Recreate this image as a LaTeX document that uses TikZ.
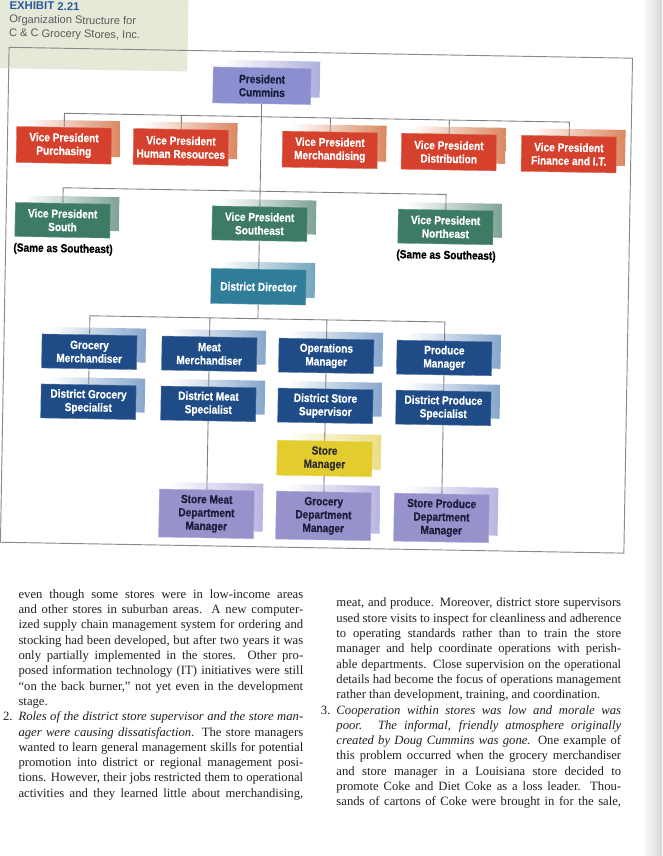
\documentclass[tikz,border=0pt]{standalone}
\usepackage{fontspec}
\setmainfont{Liberation Serif}
\newfontfamily\boxff[FakeStretch=0.86, BoldFeatures={FakeBold=0.6}]{Liberation Sans}
\newfontfamily\headff{Liberation Sans}
\usetikzlibrary{shadows}
\definecolor{presC}{HTML}{8B8FCF}
\definecolor{presS}{HTML}{AEB0DE}
\definecolor{presT}{HTML}{1C1E3E}
\definecolor{vpR}{HTML}{D5412C}
\definecolor{vpRS}{HTML}{DB8760}
\definecolor{vpG}{HTML}{3E7B64}
\definecolor{vpGS}{HTML}{7EA394}
\definecolor{ddC}{HTML}{2F7D98}
\definecolor{ddS}{HTML}{74A5BE}
\definecolor{navC}{HTML}{1F4C86}
\definecolor{navS}{HTML}{86A6CC}
\definecolor{yelC}{HTML}{E2CC2E}
\definecolor{yelS}{HTML}{EADF84}
\definecolor{yelT}{HTML}{2E2E2E}
\definecolor{lavC}{HTML}{9692CC}
\definecolor{lavS}{HTML}{B8B6E0}
\definecolor{lavT}{HTML}{1E1E3C}
\definecolor{lineC}{HTML}{7F7F7F}
\definecolor{frameC}{HTML}{8A8A8A}
\definecolor{tintC}{HTML}{E5E9D8}
\definecolor{exhC}{HTML}{2C5C9C}
\definecolor{subC}{HTML}{5A5A5A}
\definecolor{bodyC}{HTML}{231F20}
\newcommand\orgfont{\boxff\bfseries\fontsize{8.8}{10}\selectfont}
\newlength\colw
\setlength\colw{213.5pt}
\newcommand\jline[1]{\strut\makebox[\colw][s]{#1}}
\newcommand\lline[1]{\strut #1}
\tikzset{
  box/.style={inner sep=0pt, align=center, font=\orgfont, line width=0.3pt, minimum width=71.25pt},
  orgbox/.style 2 args={box, fill=#1, draw=#1!75!white,
     general shadow={shadow xshift=6.75pt, shadow yshift=5.25pt, left color=white, right color=#2}},
  pbox/.style={orgbox={presC}{presS}, text=presT, minimum width=73.5pt, minimum height=27pt},
  rbox/.style={orgbox={vpR}{vpRS}, text=white, minimum height=27pt},
  gbox/.style={orgbox={vpG}{vpGS}, text=white, minimum height=25.5pt},
  tbox/.style={orgbox={ddC}{ddS}, text=white, minimum height=26.25pt},
  nbox/.style={orgbox={navC}{navS}, text=white, minimum height=25.5pt},
  ybox/.style={orgbox={yelC}{yelS}, text=yelT, minimum height=26.25pt},
  lbox/.style={orgbox={lavC}{lavS}, text=lavT, minimum height=36pt},
  sametext/.style={inner sep=0pt, font=\orgfont, text=black},
  conn/.style={draw=lineC, line width=0.65pt},
  bodytext/.style={anchor=north west, inner sep=0pt, align=left, text=bodyC,
     font=\fontsize{9.5}{11.475}\selectfont},
}
\begin{document}
\begin{tikzpicture}[x=0.75pt, y=-0.75pt]
\useasboundingbox (0,0) rectangle (662,856);
\fill[white] (0,0) rectangle (662,856);
\shade[left color=white, right color=black!16] (642,0) rectangle (662,856);
\begin{scope}[rotate around={-1:(331,428)}, transform shape]
% header
\fill[tintC] (-20,-20) rectangle (181,74);
\node[anchor=base west, inner sep=0pt, font=\headff\bfseries\fontsize{8.5}{10}\selectfont, text=exhC] (exh) at (2,15) {EXHIBIT 2.21};
\node[anchor=base west, inner sep=0pt, font=\headff\fontsize{8.3}{10}\selectfont, text=subC] (sub1) at (2,28.5) {Organization Structure for};
\node[anchor=base west, inner sep=0pt, font=\headff\fontsize{8.3}{10}\selectfont, text=subC] (sub2) at (2,42.2) {C \& C Grocery Stores, Inc.};
% frame
\draw[frameC, line width=0.7pt] (2.5,53) rectangle (626,548);
% nodes
\node[pbox] (pres) at (256,87) {President\\Cummins};
\node[rbox] (vppur) at (59,150) {Vice President\\Purchasing};
\node[rbox] (vphr) at (176,150) {Vice President\\Human Resources};
\node[rbox] (vpmer) at (325,150) {Vice President\\Merchandising};
\node[rbox] (vpdis) at (444,150) {Vice President\\Distribution};
\node[rbox] (vpfin) at (564,150) {Vice President\\Finance and I.T.};
\node[gbox] (vps) at (59,225) {Vice President\\South};
\node[gbox] (vpse) at (256,225) {Vice President\\Southeast};
\node[gbox] (vpne) at (442,225) {Vice President\\Northeast};
\node[sametext] (same1) at (60,254) {(Same as Southeast)};
\node[sametext] (same2) at (443,254) {(Same as Southeast)};
\node[tbox] (dd) at (256,288) {District Director};
\node[nbox] (gm) at (88,356) {Grocery\\Merchandiser};
\node[nbox] (mm) at (208,356) {Meat\\Merchandiser};
\node[nbox] (om) at (325,356) {Operations\\Manager};
\node[nbox] (pm) at (443,356) {Produce\\Manager};
\node[nbox] (dgs) at (88,406) {District Grocery\\Specialist};
\node[nbox] (dms) at (208,406) {District Meat\\Specialist};
\node[nbox] (dss) at (325,406) {District Store\\Supervisor};
\node[nbox] (dps) at (443,406) {District Produce\\Specialist};
\node[ybox] (sm) at (325,458.6) {Store\\Manager};
\node[lbox] (smdm) at (208,516) {Store Meat\\Department\\Manager};
\node[lbox] (gdm) at (325,516) {Grocery\\Department\\Manager};
\node[lbox] (spdm) at (443,516) {Store Produce\\Department\\Manager};
% bus coordinates
\coordinate (rb1) at (59,118);
\coordinate (rb2) at (176,118);
\coordinate (rb3) at (325,118);
\coordinate (rb4) at (444,118);
\coordinate (rb5) at (564,118);
\coordinate (gb1) at (59,192.5);
\coordinate (gb3) at (442,192.5);
\coordinate (bb1) at (88,320);
\coordinate (bb2) at (208,320);
\coordinate (bbc) at (256,320);
\coordinate (bb3) at (325,320);
\coordinate (bb4) at (443,320);
% connectors
\draw[conn] (pres.south) -- (vpse.north);
\draw[conn] (vppur.north) -- (rb1) -- (rb5) -- (vpfin.north);
\draw[conn] (rb2) -- (vphr.north);
\draw[conn] (rb3) -- (vpmer.north);
\draw[conn] (rb4) -- (vpdis.north);
\draw[conn] (vps.north) -- (gb1) -- (gb3) -- (vpne.north);
\draw[conn] (vpse.south) -- (dd.north);
\draw[conn] (dd.south) -- (bbc);
\draw[conn] (gm.north) -- (bb1) -- (bb4) -- (pm.north);
\draw[conn] (bb2) -- (mm.north);
\draw[conn] (bb3) -- (om.north);
\draw[conn] (gm.south) -- (dgs.north);
\draw[conn] (mm.south) -- (dms.north);
\draw[conn] (dms.south) -- (smdm.north);
\draw[conn] (om.south) -- (dss.north);
\draw[conn] (dss.south) -- (sm.north);
\draw[conn] (sm.south) -- (gdm.north);
\draw[conn] (pm.south) -- (dps.north);
\draw[conn] (dps.south) -- (spdm.north);
\end{scope}
% body text
\node[bodytext] (colL) at (18.3,587.4) {%
\jline{even though some stores were in low-income areas}\\
\jline{and other stores in suburban areas. A new computer-}\\
\jline{ized supply chain management system for ordering and}\\
\jline{stocking had been developed, but after two years it was}\\
\jline{only partially implemented in the stores. Other pro-}\\
\jline{posed information technology (IT) initiatives were still}\\
\jline{“on the back burner,” not yet even in the development}\\
\lline{stage.}\\
\llap{2.\hspace{4.5pt}}\jline{\itshape Roles of the district store supervisor and the store man-}\\
\jline{{\itshape ager were causing dissatisfaction.} The store managers}\\
\jline{wanted to learn general management skills for potential}\\
\jline{promotion into district or regional management posi-}\\
\jline{tions. However, their jobs restricted them to operational}\\
\jline{activities and they learned little about merchandising,}};
\node[bodytext] (colR) at (336.2,596) {%
\jline{meat, and produce. Moreover, district store supervisors}\\
\jline{used store visits to inspect for cleanliness and adherence}\\
\jline{to operating standards rather than to train the store}\\
\jline{manager and help coordinate operations with perish-}\\
\jline{able departments. Close supervision on the operational}\\
\jline{details had become the focus of operations management}\\
\lline{rather than development, training, and coordination.}\\
\llap{3.\hspace{4.5pt}}\jline{\itshape Cooperation within stores was low and morale was}\\
\jline{\itshape poor. The informal, friendly atmosphere originally}\\
\jline{{\itshape created by Doug Cummins was gone.} One example of}\\
\jline{this problem occurred when the grocery merchandiser}\\
\jline{and store manager in a Louisiana store decided to}\\
\jline{promote Coke and Diet Coke as a loss leader. Thou-}\\
\jline{sands of cartons of Coke were brought in for the sale,}};
\end{tikzpicture}
\end{document}
